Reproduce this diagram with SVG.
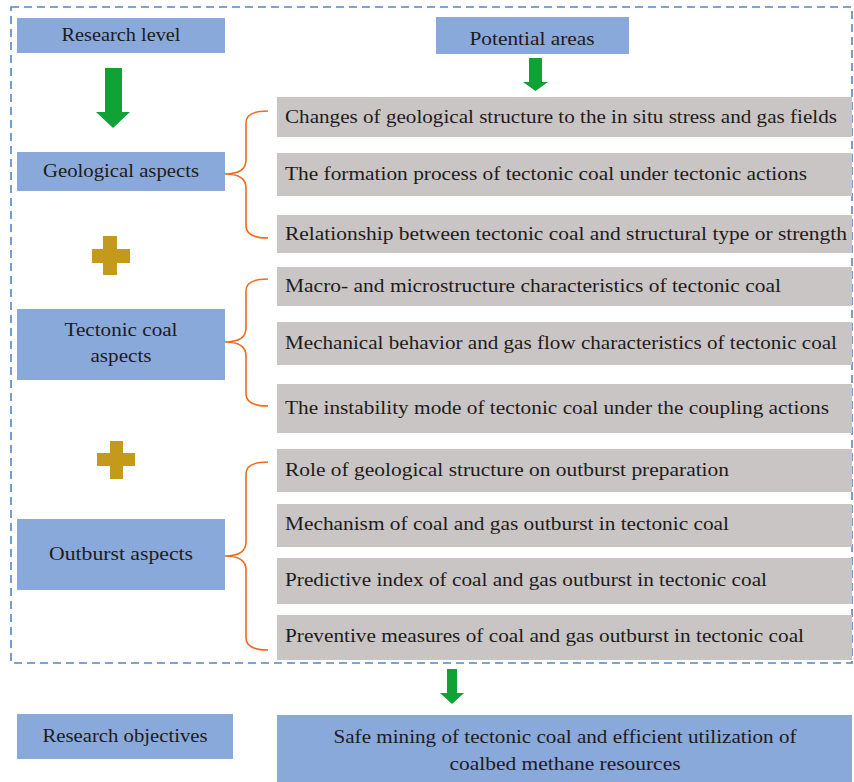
<svg xmlns="http://www.w3.org/2000/svg" width="854" height="782" viewBox="0 0 854 782">
<style>
.blue{fill:#89a9da}
.gray{fill:#c9c5c4}
.t{font-size:19px;fill:#1e1b1c}
.c{text-anchor:middle}
.brace{fill:none;stroke:#f06a1e;stroke-width:1.6}
.arrow{fill:#10a234}
.plus{fill:#c49a1c}
</style>
<rect x="11" y="7" width="841" height="656" fill="none" stroke="#4f87c9" stroke-width="1.6" stroke-dasharray="8,5"/>
<g font-family="'Liberation Serif', 'DejaVu Serif', serif">
<g id="research-level"><rect class="blue" x="17" y="18" width="208" height="35"/><text class="t c" x="121" y="41" textLength="119" lengthAdjust="spacingAndGlyphs">Research level</text></g>
<g id="potential-areas"><rect class="blue" x="436" y="17" width="193" height="37"/><text class="t c" x="532" y="45" textLength="125" lengthAdjust="spacingAndGlyphs">Potential areas</text></g>
<g id="geological"><rect class="blue" x="17" y="152" width="208" height="39"/><text class="t c" x="121" y="177" textLength="156" lengthAdjust="spacingAndGlyphs">Geological aspects</text></g>
<g id="tectonic"><rect class="blue" x="17" y="309" width="208" height="71"/><text class="t c" x="121" y="336" textLength="113" lengthAdjust="spacingAndGlyphs">Tectonic coal</text><text class="t c" x="121" y="362" textLength="61" lengthAdjust="spacingAndGlyphs">aspects</text></g>
<g id="outburst"><rect class="blue" x="17" y="519" width="208" height="71"/><text class="t c" x="121" y="560" textLength="144" lengthAdjust="spacingAndGlyphs">Outburst aspects</text></g>
<g id="research-objectives"><rect class="blue" x="17" y="714" width="216" height="45"/><text class="t c" x="125" y="742" textLength="165" lengthAdjust="spacingAndGlyphs">Research objectives</text></g>
<g id="safe-mining"><rect class="blue" x="277" y="715" width="575" height="67"/><text class="t c" x="565" y="743" textLength="463" lengthAdjust="spacingAndGlyphs">Safe mining of tectonic coal and efficient utilization of</text><text class="t c" x="565" y="770" textLength="231" lengthAdjust="spacingAndGlyphs">coalbed methane resources</text></g>
<g id="area1"><rect class="gray" x="277" y="97" width="575" height="40"/><text class="t" x="285" y="123" textLength="552" lengthAdjust="spacingAndGlyphs">Changes of geological structure to the in situ stress and gas fields</text></g>
<g id="area2"><rect class="gray" x="277" y="153" width="575" height="43"/><text class="t" x="285" y="180" textLength="522" lengthAdjust="spacingAndGlyphs">The formation process of tectonic coal under tectonic actions</text></g>
<g id="area3"><rect class="gray" x="277" y="215" width="575" height="38"/><text class="t" x="285" y="240" textLength="562" lengthAdjust="spacingAndGlyphs">Relationship between tectonic coal and structural type or strength</text></g>
<g id="area4"><rect class="gray" x="277" y="267" width="575" height="39"/><text class="t" x="285" y="292" textLength="496" lengthAdjust="spacingAndGlyphs">Macro- and microstructure characteristics of tectonic coal</text></g>
<g id="area5"><rect class="gray" x="277" y="322" width="575" height="43"/><text class="t" x="285" y="349" textLength="552" lengthAdjust="spacingAndGlyphs">Mechanical behavior and gas flow characteristics of tectonic coal</text></g>
<g id="area6"><rect class="gray" x="277" y="384" width="575" height="49"/><text class="t" x="285" y="414" textLength="544" lengthAdjust="spacingAndGlyphs">The instability mode of tectonic coal under the coupling actions</text></g>
<g id="area7"><rect class="gray" x="277" y="449" width="575" height="43"/><text class="t" x="285" y="476" textLength="444" lengthAdjust="spacingAndGlyphs">Role of geological structure on outburst preparation</text></g>
<g id="area8"><rect class="gray" x="277" y="504" width="575" height="43"/><text class="t" x="285" y="530" textLength="444" lengthAdjust="spacingAndGlyphs">Mechanism of coal and gas outburst in tectonic coal</text></g>
<g id="area9"><rect class="gray" x="277" y="558" width="575" height="46"/><text class="t" x="285" y="586" textLength="482" lengthAdjust="spacingAndGlyphs">Predictive index of coal and gas outburst in tectonic coal</text></g>
<g id="area10"><rect class="gray" x="277" y="615" width="575" height="45"/><text class="t" x="285" y="642" textLength="519" lengthAdjust="spacingAndGlyphs">Preventive measures of coal and gas outburst in tectonic coal</text></g>
</g>
<g id="plus1"><rect class="plus" x="92" y="249" width="38" height="14"/><rect class="plus" x="103" y="236" width="14" height="39"/></g>
<g id="plus2"><rect class="plus" x="97" y="453" width="38" height="13"/><rect class="plus" x="110" y="441" width="13" height="38"/></g>
<g id="connectors">
<path class="arrow" d="M105,68 H122 V112 H130 L113,128 L96,112 H105 Z"/>
<path class="arrow" d="M529,58 H542 V82 H548 L535.5,91 L523,82 H529 Z"/>
<path class="arrow" d="M447,669 H457 V693 H464 L452,704 L440,693 H447 Z"/>
<path class="brace" d="M225,174 Q246,174 246,160 V123 Q246,111 268,111 M225,174 Q246,174 246,188 V226 Q246,238 268,238"/>
<path class="brace" d="M225,342 Q246,342 246,328 V291 Q246,279 268,279 M225,342 Q246,342 246,356 V394 Q246,406 268,406"/>
<path class="brace" d="M225,556 Q246,556 246,542 V474 Q246,462 268,462 M225,556 Q246,556 246,570 V638 Q246,650 268,650"/>
</g>
</svg>
